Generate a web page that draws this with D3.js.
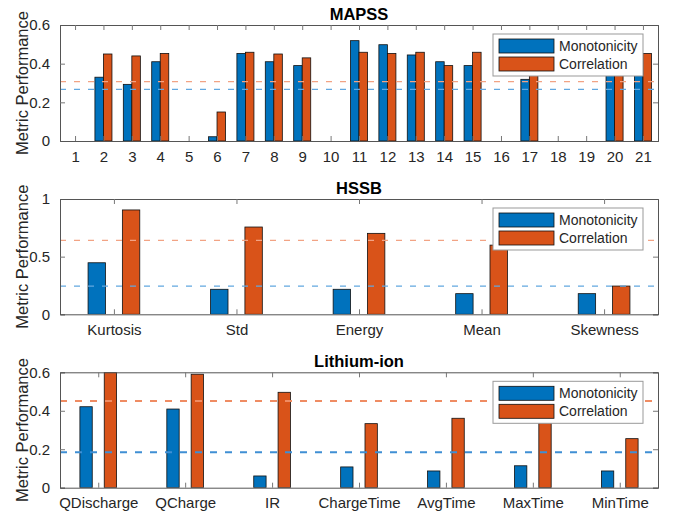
<!DOCTYPE html>
<html>
<head>
<meta charset="utf-8">
<script src="https://cdn.jsdelivr.net/npm/d3@7"></script>
<style>
  body { margin: 0; background: #fff; }
  svg { display: block; font-family: "Liberation Sans", Arial, Helvetica, sans-serif; }
</style>
</head>
<body>
<script>
// MAPSS sensors 1..21
var mapssCats = ["1","2","3","4","5","6","7","8","9","10","11","12","13","14","15","16","17","18","19","20","21"]
var mapssMono = [0, 0.33, 0.293, 0.41, 0, 0.022, 0.453, 0.41, 0.39, 0, 0.519, 0.498, 0.445, 0.41, 0.39, 0, 0.319, 0, 0, 0.42, 0.40]
var mapssCorr = [0, 0.45, 0.44, 0.453, 0, 0.15, 0.459, 0.45, 0.43, 0, 0.459, 0.453, 0.459, 0.39, 0.459, 0, 0.45, 0, 0, 0.45, 0.453]
var mapssMean = [0.267, 0.307]   // monotonicity, correlation
var mapssTicks = [0, 0.2, 0.4, 0.6]

// HSSB features
var hssbCats = ["Kurtosis", "Std", "Energy", "Mean", "Skewness"]
var hssbMono = [0.447, 0.217, 0.217, 0.179, 0.179]
var hssbCorr = [0.905, 0.757, 0.702, 0.60, 0.245]
var hssbMean = [0.245, 0.642]
var hssbTicks = [0, 0.5, 1]

// Lithium-ion features
var liCats = ["QDischarge", "QCharge", "IR", "ChargeTime", "AvgTime", "MaxTime", "MinTime"]
var liMono = [0.421, 0.409, 0.061, 0.108, 0.087, 0.114, 0.087]
var liCorr = [0.60, 0.59, 0.496, 0.333, 0.361, 0.40, 0.255]
var liMean = [0.184, 0.451]
var liTicks = [0, 0.2, 0.4, 0.6]

var seriesNames = ["Monotonicity", "Correlation"]
var colors = ["#0072BD", "#D95319"]

var svg = d3.select("body").append("svg")
    .attr("width", 675)
    .attr("height", 513)

var left = 60, right = 658

function drawPanel(cfg){
    var g = svg.append("g")
    var n = cfg.cats.length
    var x = d3.scaleLinear().domain([1 - cfg.pad, n + cfg.pad]).range([left, right])
    var y = d3.scaleLinear().domain([0, cfg.ticks[cfg.ticks.length - 1]]).range([cfg.bottom, cfg.top])
    var idx = d3.range(1, n + 1)

    var clipId = "clip" + cfg.id
    svg.append("clipPath").attr("id", clipId)
      .append("rect")
        .attr("x", left).attr("y", cfg.top)
        .attr("width", right - left).attr("height", cfg.bottom - cfg.top)

    var plot = g.append("g").attr("clip-path", "url(#" + clipId + ")")
    var unit = x(2) - x(1)

    // bars
    ;[cfg.mono, cfg.corr].forEach(function(vals, s){
        plot.selectAll(".bar" + s)
          .data(vals)
          .enter().append("rect")
            .attr("x", function(d, i){ return x(i + 1) + (s === 0 ? -1 : 1) * cfg.offset * unit - cfg.barW * unit / 2 })
            .attr("width", cfg.barW * unit)
            .attr("y", function(d){ return y(d) })
            .attr("height", function(d){ return y(0) - y(d) })
            .style("fill", colors[s])
            .style("stroke", d => d > 0 ? "#111" : "none")
            .style("stroke-width", 0.8)
    })

    // mean lines
    var dashCols = cfg.dashColors
    cfg.mean.forEach(function(m, s){
        plot.append("line")
            .attr("x1", left).attr("x2", right)
            .attr("y1", y(m)).attr("y2", y(m))
            .style("stroke", dashCols[s])
            .style("stroke-width", cfg.dashW)
            .style("stroke-dasharray", cfg.dash)
    })

    // axes, MATLAB style ticks inside
    g.append("g").attr("transform", "translate(" + left + ",0)")
        .call(d3.axisLeft(y).tickValues(cfg.ticks).tickSize(-5).tickPadding(10).tickFormat(d => String(d)))
    g.append("g").attr("transform", "translate(" + right + ",0)")
        .call(d3.axisRight(y).tickValues(cfg.ticks).tickSize(-5).tickFormat(""))
    g.append("g").attr("transform", "translate(0," + cfg.bottom + ")")
        .call(d3.axisBottom(x).tickValues(idx).tickSize(-5).tickPadding(10).tickFormat(d => cfg.cats[d - 1]))
    g.append("g").attr("transform", "translate(0," + cfg.top + ")")
        .call(d3.axisTop(x).tickValues(idx).tickSize(-5).tickFormat(""))

    g.selectAll(".domain").style("stroke", "#555").style("stroke-width", 1)
    g.selectAll(".tick line").style("stroke", "#777")
    g.selectAll(".tick text").style("font-size", "15px").style("fill", "#262626")
        .style("font-family", "Liberation Sans, Arial, sans-serif")

    // title
    g.append("text")
        .attr("x", (left + right) / 2).attr("y", cfg.top - 5)
        .attr("text-anchor", "middle")
        .style("font-weight", "bold").style("font-size", "16.5px").style("fill", "#000")
        .text(cfg.title)

    // y label
    g.append("text")
        .attr("transform", "translate(28," + ((cfg.top + cfg.bottom) / 2) + ") rotate(-90)")
        .attr("text-anchor", "middle")
        .style("font-size", "16.5px").style("fill", "#262626")
        .text("Metric Performance")

    // legend
    var lg = g.append("g").attr("transform", "translate(493," + (cfg.top + 9) + ")")
    lg.append("rect").attr("width", 150).attr("height", 42)
        .style("fill", "#fff").style("stroke", "#999").style("stroke-width", 1)
    seriesNames.forEach(function(name, s){
        lg.append("rect")
            .attr("x", 6).attr("y", 5 + s * 18).attr("width", 55).attr("height", 14)
            .style("fill", colors[s]).style("stroke", "#111").style("stroke-width", 0.8)
        lg.append("text")
            .attr("x", 66).attr("y", 17 + s * 18)
            .style("font-size", "14px").style("fill", "#262626")
            .text(name)
    })
}

drawPanel({id: 1, title: "MAPSS", cats: mapssCats, mono: mapssMono, corr: mapssCorr, mean: mapssMean,
    ticks: mapssTicks, top: 25, bottom: 141, pad: 0.53, barW: 0.3, offset: 0.15,
    dashColors: ["#62A8E0", "#F2A384"], dashW: 1.3, dash: "6,8"})
drawPanel({id: 2, title: "HSSB", cats: hssbCats, mono: hssbMono, corr: hssbCorr, mean: hssbMean,
    ticks: hssbTicks, top: 199, bottom: 314.3, pad: 0.44, barW: 0.142, offset: 0.14,
    dashColors: ["#62A8E0", "#F2A384"], dashW: 1.3, dash: "6,8"})
drawPanel({id: 3, title: "Lithium-ion", cats: liCats, mono: liMono, corr: liCorr, mean: liMean,
    ticks: liTicks, top: 372.3, bottom: 487.7, pad: 0.44, barW: 0.142, offset: 0.14,
    dashColors: ["#3F8FD4", "#EF8C63"], dashW: 2, dash: "7,8"})
</script>
</body>
</html>
